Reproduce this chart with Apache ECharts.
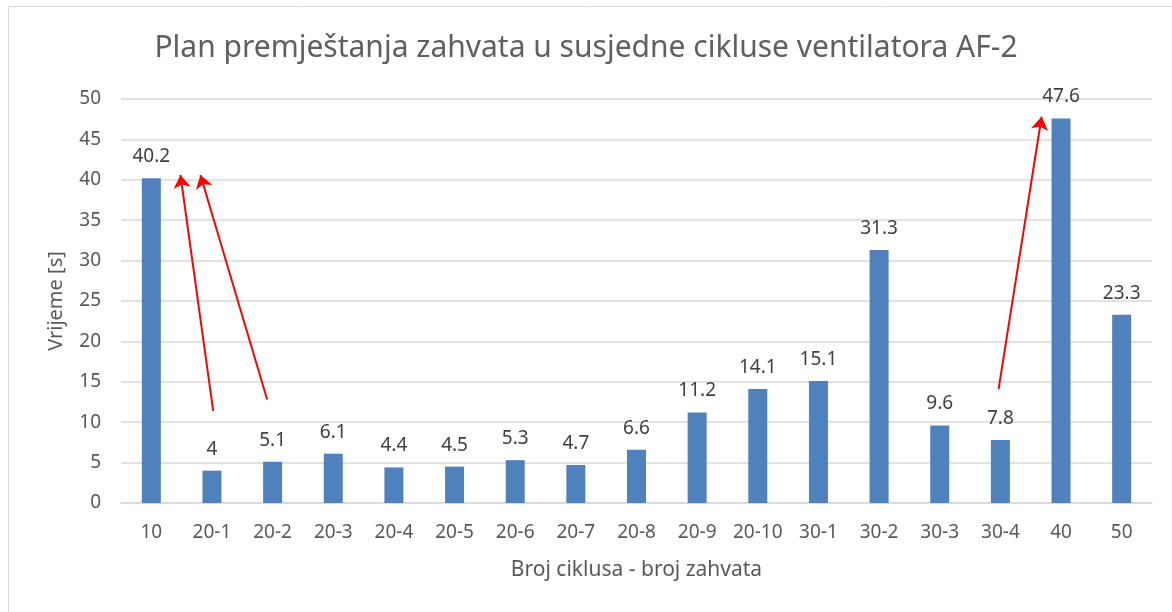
<!DOCTYPE html>
<html>
<head>
<meta charset="utf-8">
<script src="https://cdn.jsdelivr.net/npm/echarts@6/dist/echarts.min.js"></script>
<style>
  html, body { margin: 0; padding: 0; background: #fff; }
  #main { width: 1172px; height: 612px; }
</style>
</head>
<body>
<div id="main"></div>
<script>
var categories = ['10', '20-1', '20-2', '20-3', '20-4', '20-5', '20-6', '20-7', '20-8',
    '20-9', '20-10', '30-1', '30-2', '30-3', '30-4', '40', '50'];
var times = [40.2, 4, 5.1, 6.1, 4.4, 4.5, 5.3, 4.7, 6.6, 11.2, 14.1, 15.1, 31.3, 9.6, 7.8, 47.6, 23.3];
// red arrows: [from, to] as [category position, seconds]
var arrows = [
    [[1.02, 11.4], [0.48, 40.6]],
    [[1.91, 12.8], [0.81, 40.6]],
    [[13.97, 14.1], [14.68, 47.8]]
];

var font = 'Noto Sans';
var myChart = echarts.init(document.getElementById('main'));

option = {
    animation: false,
    textStyle: { fontFamily: font },
    title: {
        text: 'Plan premještanja zahvata u susjedne cikluse ventilatora AF-2',
        left: 'center',
        top: 28,
        textStyle: { fontFamily: font, fontSize: 30, fontWeight: 'normal', color: '#5f5f5f' }
    },
    graphic: [{
        type: 'rect',
        shape: { x: 8.5, y: 6.5, width: 1180, height: 620 },
        style: { fill: 'none', stroke: '#d9d9d9', lineWidth: 1 },
        silent: true
    }],
    grid: { left: 121, right: 20, top: 99, bottom: 109 },
    xAxis: [{
        type: 'category',
        data: categories,
        name: 'Broj ciklusa - broj zahvata',
        nameLocation: 'middle',
        nameGap: 57,
        nameTextStyle: { fontSize: 21, color: '#595959' },
        axisLine: { lineStyle: { color: '#d9d9d9', width: 1.5 } },
        axisTick: { show: false },
        axisLabel: { fontSize: 19, color: '#595959', margin: 20, interval: 0 }
    }, {
        type: 'value',
        min: -0.5,
        max: 16.5,
        show: false
    }],
    yAxis: {
        type: 'value',
        min: 0,
        max: 50,
        interval: 5,
        name: 'Vrijeme [s]',
        nameLocation: 'middle',
        nameGap: 55,
        nameTextStyle: { fontSize: 20, color: '#595959' },
        axisLine: { show: false },
        axisTick: { show: false },
        axisLabel: { fontSize: 19, color: '#595959', margin: 20 },
        splitLine: { lineStyle: { color: '#d9d9d9', width: 1.5 } }
    },
    series: [{
        name: 'vrijeme',
        type: 'bar',
        data: times,
        barWidth: 19,
        itemStyle: { color: '#4f81bd' },
        label: {
            show: true,
            position: 'top',
            distance: 12,
            fontSize: 19,
            color: '#404040'
        }
    }, {
        name: 'strelice',
        type: 'lines',
        coordinateSystem: 'cartesian2d',
        xAxisIndex: 1,
        yAxisIndex: 0,
        symbol: ['none', 'arrow'],
        symbolSize: [1, 13],
        lineStyle: { color: '#ff0000', width: 2, opacity: 1 },
        data: arrows.map(function (a) {
            return { coords: a };
        }),
        silent: true,
        z: 5
    }]
};

myChart.setOption(option);
</script>
</body>
</html>
